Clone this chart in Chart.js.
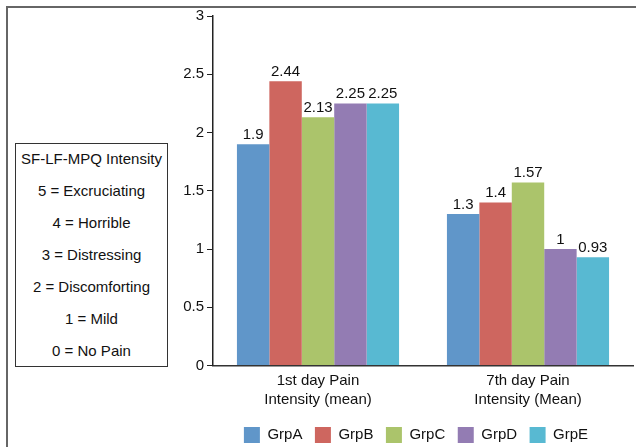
<!DOCTYPE html>
<html>
<head>
<meta charset="utf-8">
<script src="https://cdn.jsdelivr.net/npm/chart.js@4.4.0/dist/chart.umd.min.js"></script>
<style>
  html, body { margin: 0; padding: 0; background: #fff; }
  #wrap { position: relative; width: 636px; height: 447px; overflow: hidden; font-family: "Liberation Sans", Arial, sans-serif; }
  #frame { position: absolute; left: 6px; top: 6px; width: 640px; height: 460px; border-left: 2px solid #666; border-top: 2px solid #666; box-sizing: border-box; }
  #scale { position: absolute; left: 15px; top: 143px; width: 153px; height: 224px; border: 1px solid #333; box-sizing: border-box; text-align: center; font-size: 15px; color: #111; }
  #scale div { position: absolute; left: 0; right: 0; line-height: 17px; }
  canvas { position: absolute; left: 0; top: 0; }
</style>
</head>
<body>
<div id="wrap">
  <div id="frame"></div>
  <div id="scale"></div>
  <canvas id="chart" width="636" height="447"></canvas>
</div>
<script>
// Categories, groups and mean values
const categories = [["1st day Pain", "Intensity (mean)"], ["7th day Pain", "Intensity (Mean)"]];
const groups = ["GrpA", "GrpB", "GrpC", "GrpD", "GrpE"];
const grpA = [1.9, 1.3];
const grpB = [2.44, 1.4];
const grpC = [2.13, 1.57];
const grpD = [2.25, 1];
const grpE = [2.25, 0.93];
const yTicks = [0, 0.5, 1, 1.5, 2, 2.5, 3];
const yTickLabels = ["0", "0.5", "1", "1.5", "2", "2.5", "3"];
const scaleTitle = "SF-LF-MPQ Intensity";
const scaleLines = ["5 = Excruciating", "4 = Horrible", "3 = Distressing", "2 = Discomforting", "1 = Mild", "0 = No Pain"];

const colors = ["#6096c9", "#ce665f", "#abc46b", "#937cb3", "#58b9d2"];
const series = [grpA, grpB, grpC, grpD, grpE];

// Intensity scale key on the left
const key = document.getElementById("scale");
[scaleTitle].concat(scaleLines).forEach((t, i) => {
  const d = document.createElement("div");
  d.textContent = t;
  d.style.top = (6 + i * 32) + "px";
  key.appendChild(d);
});

const FONT = "'Liberation Sans', Arial, sans-serif";

// Value labels above each bar
const valueLabels = {
  id: "valueLabels",
  afterDatasetsDraw(chart) {
    const ctx = chart.ctx;
    ctx.save();
    ctx.font = "15px " + FONT;
    ctx.fillStyle = "#111";
    ctx.textAlign = "center";
    ctx.textBaseline = "bottom";
    chart.data.datasets.forEach((ds, i) => {
      chart.getDatasetMeta(i).data.forEach((bar, j) => {
        ctx.fillText(String(ds.data[j]), bar.x, bar.y - 2);
      });
    });
    ctx.restore();
  }
};

// Shift the legend row a little to the left
const legendShift = {
  id: "legendShift",
  afterLayout(chart) {
    if (chart.legend) { chart.legend.left -= 7; chart.legend.right -= 7; }
  }
};

new Chart(document.getElementById("chart"), {
  type: "bar",
  data: {
    labels: categories,
    datasets: groups.map((g, i) => ({
      label: g,
      data: series[i],
      backgroundColor: colors[i],
      borderWidth: 0,
      categoryPercentage: 0.772,
      barPercentage: 1.0
    }))
  },
  options: {
    responsive: false,
    animation: false,
    layout: { padding: { left: 163, right: 3, top: 16, bottom: -6 } },
    plugins: {
      legend: {
        position: "bottom",
        fullSize: false,
        labels: {
          boxWidth: 16, boxHeight: 16, padding: 12.5,
          color: "#111",
          font: { family: FONT, size: 15 }
        }
      },
      tooltip: { enabled: false }
    },
    scales: {
      x: {
        grid: { display: true, drawOnChartArea: false, drawTicks: false },
        border: { display: true, color: "#333", width: 1.5 },
        ticks: { color: "#111", padding: 6, font: { family: FONT, size: 15, lineHeight: 1.27 } },
        afterFit(s) { s.height = 49; }
      },
      y: {
        min: 0, max: 3,
        afterBuildTicks(s) { s.ticks = yTicks.map(v => ({ value: v })); },
        grid: { drawOnChartArea: false, drawTicks: true, tickLength: 6, color: "#222" },
        border: { display: true, color: "#222", width: 1.5 },
        ticks: {
          color: "#111", padding: 3, font: { family: FONT, size: 15 },
          callback: (v, i) => yTickLabels[i]
        },
        afterFit(s) { s.width = 50; }
      }
    }
  },
  plugins: [valueLabels, legendShift]
});
</script>
</body>
</html>
